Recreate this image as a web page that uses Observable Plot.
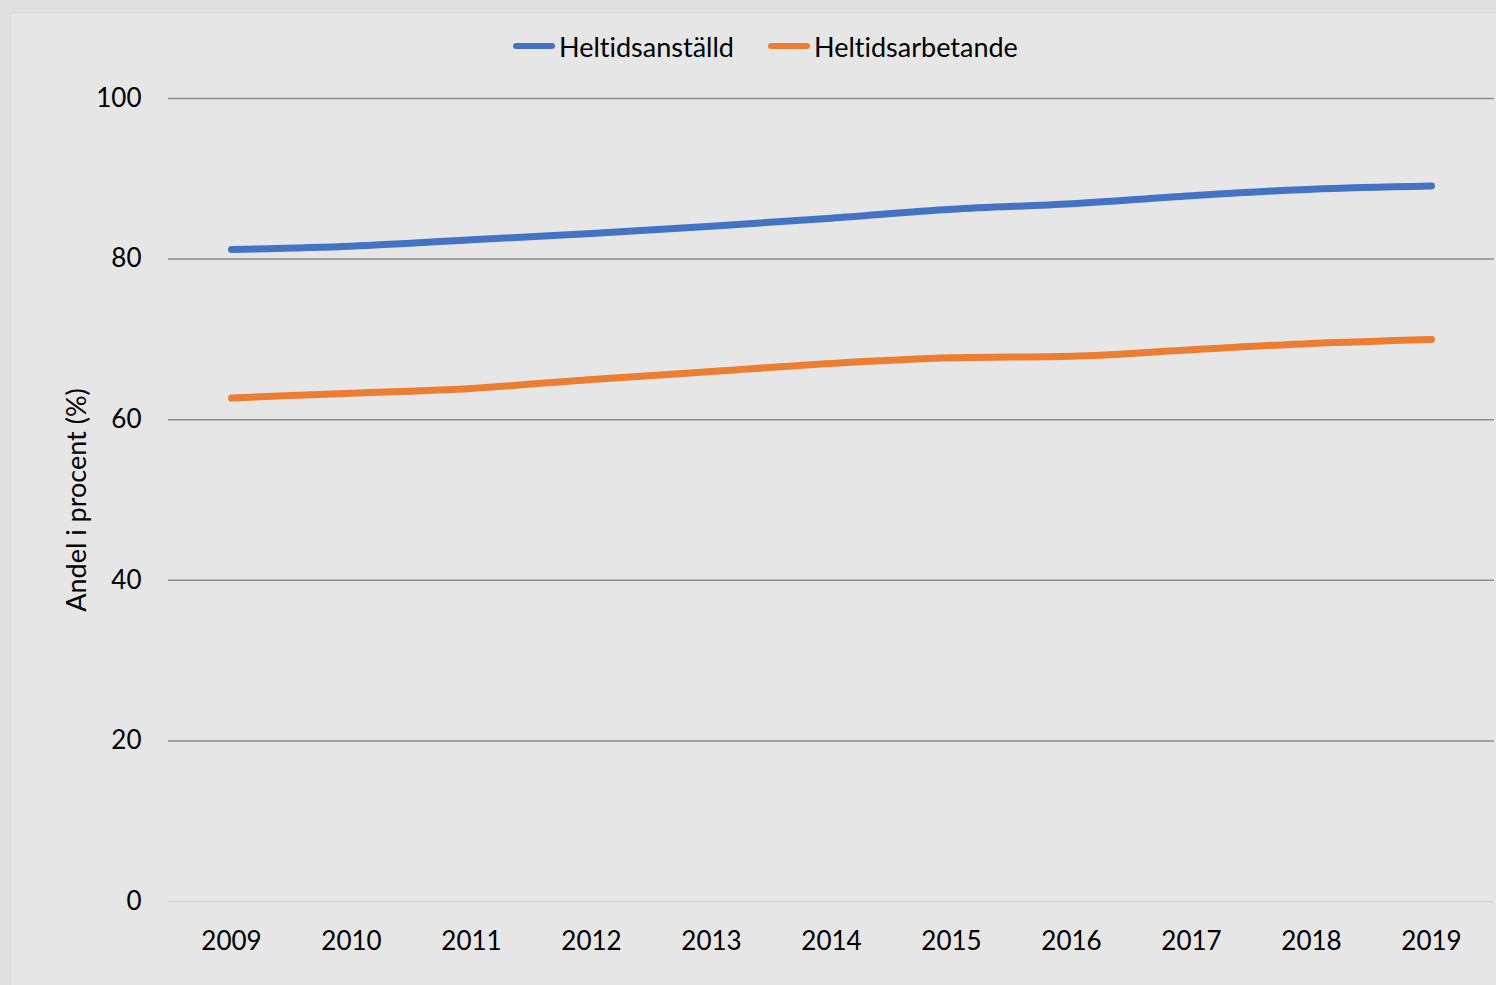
<!DOCTYPE html>
<html>
<head>
<meta charset="utf-8">
<script src="https://cdn.jsdelivr.net/npm/d3@7"></script>
<script src="https://cdn.jsdelivr.net/npm/@observablehq/plot@0.6"></script>
<style>
  html, body { margin: 0; padding: 0; background: #e0e0e0; width: 1496px; height: 985px; overflow: hidden; }
  #panel { position: absolute; left: 10px; top: 12px; width: 1500px; height: 1000px; background: #e6e6e6; border: 1px solid #d8d8d8; }
  #chart { position: absolute; left: 0; top: 0; }
  #chart svg text, #legend { font-variant-ligatures: none; font-feature-settings: "liga" 0; }
  #legend { position: absolute; top: 28px; left: 0; width: 1496px; height: 36px; font-family: Lato, "Open Sans", sans-serif; font-size: 27px; color: #000; }
  .item { position: absolute; top: 0; display: flex; align-items: center; height: 36px; }
  .sw { width: 42px; height: 6px; border-radius: 3px; margin-right: 4px; }
</style>
</head>
<body>
<div id="panel"></div>
<div id="chart"></div>
<div id="legend"></div>
<script>
const years = [2009, 2010, 2011, 2012, 2013, 2014, 2015, 2016, 2017, 2018, 2019];
const heltidsanstalld = [81.2, 81.6, 82.4, 83.2, 84.1, 85.1, 86.2, 86.9, 87.9, 88.7, 89.1];
const heltidsarbetande = [62.7, 63.3, 63.9, 65.0, 66.0, 67.0, 67.7, 67.9, 68.7, 69.5, 70.0];
const seriesNames = ["Heltidsanställd", "Heltidsarbetande"];
const seriesColors = ["#4472c4", "#ed7d31"];
const yTicks = [0, 20, 40, 60, 80, 100];

const rows = [];
years.forEach((y, i) => {
  rows.push({year: y, value: heltidsanstalld[i], series: seriesNames[0]});
  rows.push({year: y, value: heltidsarbetande[i], series: seriesNames[1]});
});

const plot = Plot.plot({
  width: 1496,
  height: 985,
  marginLeft: 168,
  marginRight: 2,
  marginTop: 98,
  marginBottom: 84,
  style: {background: "transparent", fontFamily: "Lato, 'Open Sans', sans-serif", fontSize: "26px", color: "#000"},
  x: {type: "point", domain: years, padding: 0.5, label: null},
  y: {domain: [0, 100], ticks: yTicks, label: "Andel i procent (%)"},
  color: {domain: seriesNames, range: seriesColors},
  marks: [
    Plot.ruleY(yTicks.filter(d => d > 0), {stroke: "#8c8c8c", strokeWidth: 1.5}),
    Plot.ruleY([0], {stroke: "#d6d6d6", strokeWidth: 1.5}),
    Plot.axisY({ticks: yTicks, tickSize: 0, tickPadding: 27, fontSize: 26, label: "Andel i procent (%)", labelAnchor: "center", labelOffset: 102, labelArrow: "none"}),
    Plot.axisX({tickSize: 0, tickPadding: 30, fontSize: 26, tickFormat: d => String(d), label: null}),
    Plot.line(rows, {x: "year", y: "value", z: "series", stroke: "series", strokeWidth: 7, strokeLinecap: "round", strokeLinejoin: "round", curve: "monotone-x"})
  ]
});
plot.querySelectorAll("g[aria-label='y-axis label'] text").forEach(t => t.setAttribute("font-size", "27"));
document.getElementById("chart").appendChild(plot);

// Legend
const legend = document.getElementById("legend");
const legendX = [513, 768];
seriesNames.forEach((name, i) => {
  const item = document.createElement("div");
  item.className = "item";
  item.style.left = legendX[i] + "px";
  const sw = document.createElement("div");
  sw.className = "sw";
  sw.style.background = seriesColors[i];
  const t = document.createElement("span");
  t.textContent = name;
  item.appendChild(sw);
  item.appendChild(t);
  legend.appendChild(item);
});
</script>
</body>
</html>
